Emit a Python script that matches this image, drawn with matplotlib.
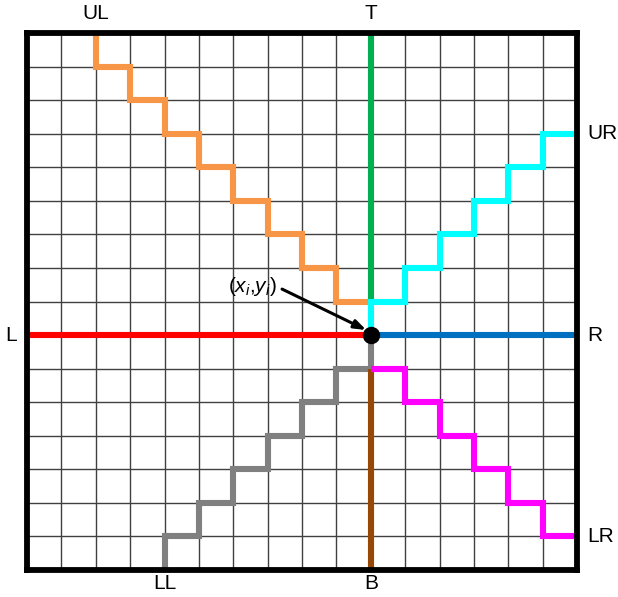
import matplotlib
matplotlib.use("Agg")
import matplotlib.pyplot as plt

plt.rcParams['font.family'] = ['Liberation Sans', 'DejaVu Sans']
plt.rcParams['mathtext.fontset'] = 'custom'
plt.rcParams['mathtext.it'] = 'Liberation Sans:italic'
plt.rcParams['mathtext.rm'] = 'Liberation Sans'

n_cells = 16
center = (10, 7)

# path vertices for each direction (grid units, origin lower left)
ul_x = [10, 9, 9, 8, 8, 7, 7, 6, 6, 5, 5, 4, 4, 3, 3, 2, 2]
ul_y = [8, 8, 9, 9, 10, 10, 11, 11, 12, 12, 13, 13, 14, 14, 15, 15, 16]
t_x = [10, 10]
t_y = [8, 16]
ur_x = [10, 10, 11, 11, 12, 12, 13, 13, 14, 14, 15, 15, 16]
ur_y = [7, 8, 8, 9, 9, 10, 10, 11, 11, 12, 12, 13, 13]
l_x = [0, 10]
l_y = [7, 7]
r_x = [10, 16]
r_y = [7, 7]
ll_x = [10, 10, 9, 9, 8, 8, 7, 7, 6, 6, 5, 5, 4, 4]
ll_y = [7, 6, 6, 5, 5, 4, 4, 3, 3, 2, 2, 1, 1, 0]
b_x = [10, 10]
b_y = [6, 0]
lr_x = [10, 11, 11, 12, 12, 13, 13, 14, 14, 15, 15, 16]
lr_y = [6, 6, 5, 5, 4, 4, 3, 3, 2, 2, 1, 1]

paths = [
    (ul_x, ul_y, "#F79646", "UL"),
    (t_x, t_y, "#00B050", "T"),
    (ur_x, ur_y, "#00FFFF", "UR"),
    (l_x, l_y, "#FF0000", "L"),
    (r_x, r_y, "#0070C0", "R"),
    (ll_x, ll_y, "#808080", "LL"),
    (b_x, b_y, "#974806", "B"),
    (lr_x, lr_y, "#FF00FF", "LR"),
]

fig = plt.figure(figsize=(6.18, 5.97), dpi=100)
ax = fig.add_axes([27 / 618, 1 - 570 / 597, 550 / 618, 537 / 597])

ax.set_xlim(0, n_cells)
ax.set_ylim(0, n_cells)
ax.set_xticks(range(n_cells + 1))
ax.set_yticks(range(n_cells + 1))
ax.tick_params(length=0, labelbottom=False, labelleft=False)
ax.grid(True, color="#404040", linewidth=1.0, zorder=0)
ax.set_axisbelow(True)
for sp in ax.spines.values():
    sp.set_linewidth(4.2)
    sp.set_zorder(5)

for xs, ys, col, name in paths:
    ax.plot(xs, ys, color=col, linewidth=4.4, solid_joinstyle="miter",
            solid_capstyle="butt", zorder=2)

ax.plot(*center, "o", color="black", markersize=11.5, zorder=4)

# end labels
lab_kw = dict(fontsize=15, clip_on=False)
ax.text(2, 16.3, "UL", ha="center", va="bottom", **lab_kw)
ax.text(10, 16.3, "T", ha="center", va="bottom", **lab_kw)
ax.text(16.3, 13, "UR", ha="left", va="center", **lab_kw)
ax.text(-0.3, 7, "L", ha="right", va="center", **lab_kw)
ax.text(16.3, 7, "R", ha="left", va="center", **lab_kw)
ax.text(16.3, 1, "LR", ha="left", va="center", **lab_kw)
ax.text(4, -0.12, "LL", ha="center", va="top", **lab_kw)
ax.text(10, -0.12, "B", ha="center", va="top", **lab_kw)

ax.text(6.55, 8.46, r"$(x_i{,}y_i)$", fontsize=15, ha="center", va="center",
        zorder=6)
ax.annotate("", xy=(9.87, 7.15), xytext=(7.42, 8.37),
            arrowprops=dict(arrowstyle="-|>,head_length=0.7,head_width=0.25",
                            color="black", lw=2.2, shrinkA=0, shrinkB=0),
            zorder=6)

fig.savefig("out.png", dpi=100)
